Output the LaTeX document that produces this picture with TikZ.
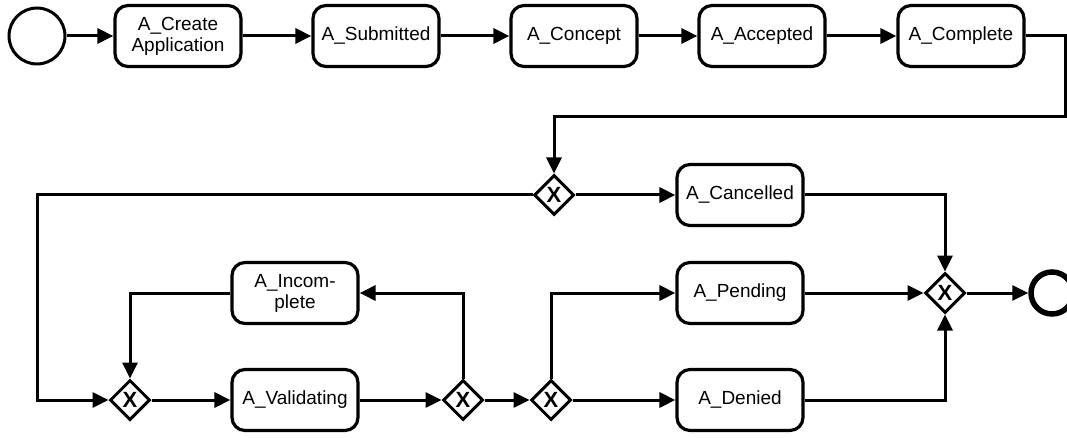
\documentclass[tikz,border=0pt]{standalone}
\usepackage{fontspec}
\setmainfont{Liberation Sans}
\usetikzlibrary{arrows.meta,shapes.geometric}
\begin{document}
\begin{tikzpicture}[x=1pt,y=-1pt,
  task/.style={draw,line width=3.2pt,rounded corners=13pt,minimum width=126pt,minimum height=61pt,inner sep=2pt,align=center,font=\fontsize{19}{21}\selectfont},
  gate/.style={draw,diamond,aspect=1,line width=3pt,minimum width=40pt,minimum height=40pt,inner sep=0pt,font=\fontsize{22}{22}\selectfont\bfseries},
  startev/.style={draw,circle,line width=3pt,minimum size=56pt,inner sep=0pt},
  endev/.style={draw,circle,line width=5.5pt,minimum size=42pt,inner sep=0pt},
  flow/.style={line width=3pt,-{Triangle[length=16pt,width=15pt]}}]
\useasboundingbox (0,0) rectangle (1067,438);
\node[startev] (start) at (37,36) {};
\node[task] (create) at (178,36) {A\_Create\\Application};
\node[task] (sub) at (376,36) {A\_Submitted};
\node[task] (con) at (574,36) {A\_Concept};
\node[task] (acc) at (762,36) {A\_Accepted};
\node[task] (comp) at (961,36) {A\_Complete};
\node[gate] (g1) at (554,195) {X};
\node[task] (canc) at (740,195) {A\_Cancelled};
\node[gate] (g2) at (130,400) {X};
\node[task] (val) at (295,400) {A\_Validating};
\node[gate] (g3) at (463,400) {X};
\node[gate] (g4) at (551,400) {X};
\node[task] (inc) at (295,293) {A\_Incom-\\plete};
\node[task] (pend) at (740,293) {A\_Pending};
\node[task] (den) at (740,400) {A\_Denied};
\node[gate] (ge) at (945,293) {X};
\node[endev] (end) at (1052,293) {};
\coordinate (c1) at (1065,117);
\coordinate (c2) at (37,400);
\draw[flow] (start) -- (create);
\draw[flow] (create) -- (sub);
\draw[flow] (sub) -- (con);
\draw[flow] (con) -- (acc);
\draw[flow] (acc) -- (comp);
\draw[flow] (comp.east) -| (c1) -| (g1.north);
\draw[flow] (g1.east) -- (canc.west);
\draw[flow] (g1.west) -| (c2) -- (g2.west);
\draw[flow] (g2.east) -- (val.west);
\draw[flow] (val.east) -- (g3.west);
\draw[flow] (g3.east) -- (g4.west);
\draw[flow] (g3.north) |- (inc.east);
\draw[flow] (inc.west) -| (g2.north);
\draw[flow] (g4.north) |- (pend.west);
\draw[flow] (g4.east) -- (den.west);
\draw[flow] (canc.east) -| (ge.north);
\draw[flow] (pend.east) -- (ge.west);
\draw[flow] (den.east) -| (ge.south);
\draw[flow] (ge.east) -- (end.west);
\end{tikzpicture}
\end{document}
